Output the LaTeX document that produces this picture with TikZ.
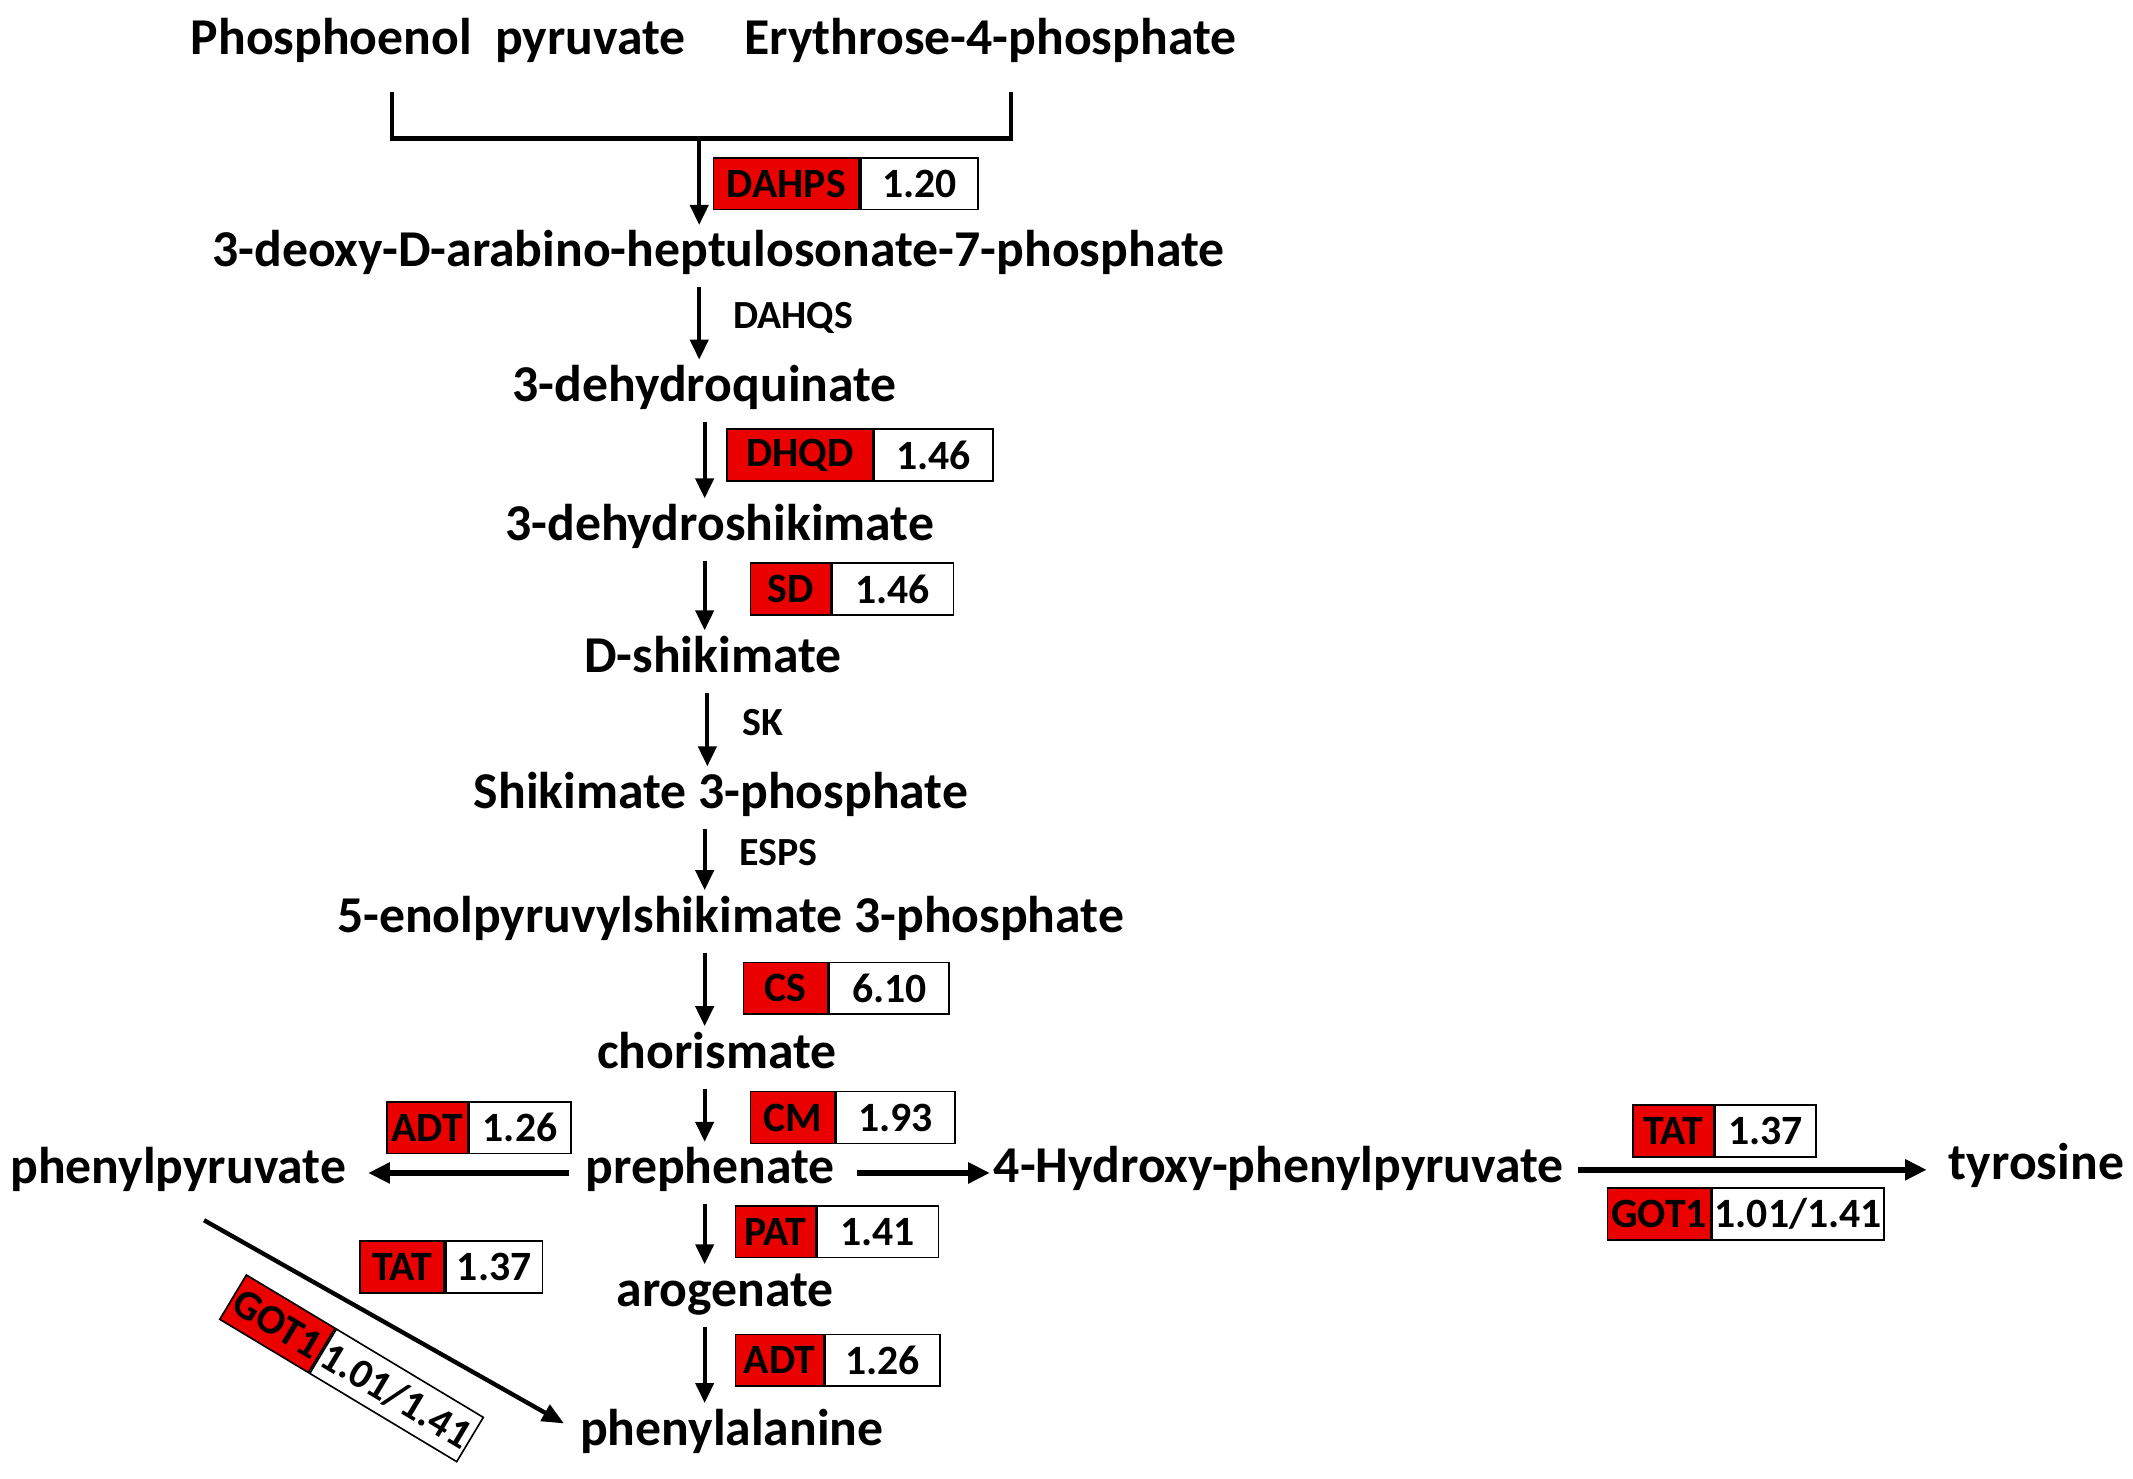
\documentclass[tikz,border=0pt]{standalone}
\usepackage{fontspec}
\setmainfont{Carlito}
\usetikzlibrary{arrows.meta}
\definecolor{boxred}{RGB}{235,0,0}
% #1 name, #2 x, #3 y, #4 red width, #5 white width, #6 enzyme, #7 value
\newcommand\ebox[7]{%
  \node[rbox,minimum width=#4*0.75pt,anchor=west] (#1r) at (#2,#3) {#6};
  \node[wbox,minimum width=#5*0.75pt,anchor=west] (#1w) at (#1r.east) {#7};}
\begin{document}
\begin{tikzpicture}[x=0.75pt,y=-0.75pt,
  met/.style={font=\fontsize{28.5}{34}\selectfont\bfseries,inner sep=0pt,text height=20pt,text depth=6pt,yshift=-2.2pt},
  lab/.style={font=\fontsize{22}{26}\selectfont\bfseries,inner sep=0pt},
  rbox/.style={draw=black,line width=0.9pt,fill=boxred,minimum height=28.5pt,inner sep=0pt,
    font=\fontsize{23}{26}\selectfont\bfseries},
  wbox/.style={draw=black,line width=0.9pt,fill=white,minimum height=28.5pt,inner sep=0pt,
    font=\fontsize{23}{26}\selectfont\bfseries},
  varr/.style={line width=2.1pt,-{Triangle[length=11pt,width=10pt]},shorten <=5pt,shorten >=3pt},
  harr/.style={line width=3.2pt,-{Triangle[length=12pt,width=11pt]}},
  darr/.style={line width=2.4pt,-{Triangle[length=12pt,width=10pt]}}]
\useasboundingbox (0,0) rectangle (1568,1087);

% metabolites
\node[met] (pep) at (322,28) {Phosphoenol\hspace{0.45em}pyruvate};
\node[met] (e4p) at (728,28) {Erythrose-4-phosphate};
\node[met] (dahp) at (528,184) {3-deoxy-D-arabino-heptulosonate-7-phosphate};
\node[met] (dhq) at (518,283) {3-dehydroquinate};
\node[met] (dhs) at (529,385) {3-dehydroshikimate};
\node[met] (shk) at (524,482) {D-shikimate};
\node[met] (s3p) at (530,582) {Shikimate 3-phosphate};
\node[met] (epsp) at (537,673) {5-enolpyruvylshikimate 3-phosphate};
\node[met] (cho) at (527,773) {chorismate};
\node[met] (pre) at (522,858) {prephenate};
\node[met] (php) at (131,858) {phenylpyruvate};
\node[met] (hpp) at (940,857) {4-Hydroxy-phenylpyruvate};
\node[met] (tyr) at (1497,855) {tyrosine};
\node[met] (aro) at (533,948) {arogenate};
\node[met] (phe) at (538,1050) {phenylalanine};

% plain enzyme labels
\node[lab] (dahqs) at (583,234) {DAHQS};
\node[lab] (sk) at (561,531) {SK};
\node[lab] (esps) at (572,627) {ESPS};

% bracket
\coordinate (bl) at (288,68);
\coordinate (br) at (743,68);
\coordinate (bj) at (514,102);
\coordinate (colA) at (514,0);
\coordinate (colB) at (518,0);
\draw[line width=2pt] (bl) -- (bl |- bj);
\draw[line width=2pt] (br) -- (br |- bj);
\draw[line width=3pt] ([xshift=-1pt]bl |- bj) -- ([xshift=1pt]br |- bj);
\draw[line width=2.1pt,-{Triangle[length=11pt,width=10pt]},shorten >=3pt] (bj) -- (dahp.north -| bj);

% vertical arrows
\draw[varr] (dahp.south -| colA) -- (dhq.north -| colA);
\draw[varr] (dhq.south -| colB) -- (dhs.north -| colB);
\draw[varr] (dhs.south -| colB) -- (shk.north -| colB);
\draw[varr] ([xshift=1.5pt]shk.south -| colB) -- ([xshift=1.5pt]s3p.north -| colB);
\draw[varr] (s3p.south -| colB) -- (epsp.north -| colB);
\draw[varr] (epsp.south -| colB) -- (cho.north -| colB);
\draw[varr] (cho.south -| colB) -- (pre.north -| colB);
\draw[varr] (pre.south -| colB) -- (aro.north -| colB);
\draw[varr] (aro.south -| colB) -- (phe.north -| colB);

% horizontal arrows
\draw[harr,shorten <=9pt,shorten >=12pt] ([yshift=-1pt]pre.west) -- ([yshift=-1pt]pre.west -| php.east);
\draw[harr,shorten <=12pt,shorten >=2pt] ([yshift=-1pt]pre.east) -- ([yshift=-1pt]pre.east -| hpp.west);
\draw[harr,shorten <=8pt,shorten >=12pt] (hpp.east) -- (hpp.east -| tyr.west);

% diagonal arrow
\coordinate (dA) at (150,897);
\draw[darr,shorten >=10pt] (dA) -- (phe.west);

% enzyme boxes
\ebox{dahps}{524}{135}{107}{86}{DAHPS}{1.20}
\ebox{dhqd}{534}{334.5}{107}{87}{DHQD}{1.46}
\ebox{sd}{551}{433}{59}{89}{SD}{1.46}
\ebox{cs}{546}{726.5}{62}{88}{CS}{6.10}
\ebox{cm}{551}{821.5}{62}{87}{CM}{1.93}
\ebox{adtl}{284}{829}{59}{75}{ADT}{1.26}
\ebox{tatr}{1200}{831.5}{59}{74}{TAT}{1.37}
\ebox{gotr}{1181}{892.5}{76}{126}{GOT1}{1.01/1.41}
\ebox{pat}{540}{905.5}{59}{89}{PAT}{1.41}
\ebox{adtb}{540}{1000}{65}{84}{ADT}{1.26}
\ebox{tatl}{264}{931.5}{62}{71}{TAT}{1.37}

% rotated GOT1 box on the diagonal
\coordinate (gj) at (237,993);
\node[rbox,minimum width=76*0.75pt,rotate=-31,anchor=east] (gotlr) at (gj) {GOT1};
\node[wbox,minimum width=126*0.75pt,rotate=-31,anchor=west] (gotlw) at (gj) {1.01/1.41};
\end{tikzpicture}
\end{document}
